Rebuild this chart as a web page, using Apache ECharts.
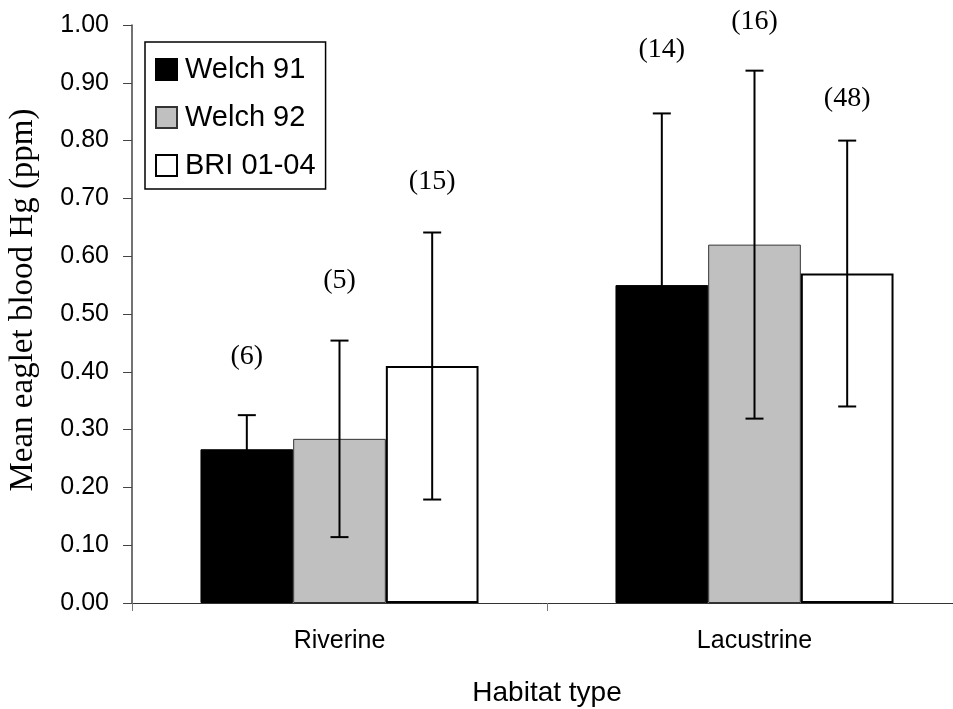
<!DOCTYPE html>
<html>
<head>
<meta charset="utf-8">
<script src="https://cdn.jsdelivr.net/npm/echarts@6/dist/echarts.min.js"></script>
<style>html,body{margin:0;padding:0;background:#fff}#c{width:953px;height:709px}</style>
</head>
<body>
<div id="c"></div>
<script>
const categories = ['Riverine', 'Lacustrine'];
const seriesNames = ['Welch 91', 'Welch 92', 'BRI 01-04'];
const welch91 = [0.266, 0.550];
const welch92 = [0.284, 0.620];
const bri0104 = [0.410, 0.570];
const welch91Err = [0.059, 0.297];
const welch92Err = [0.170, 0.301];
const bri0104Err = [0.231, 0.230];
const welch91N = ['(6)', '(14)'];
const welch92N = ['(5)', '(16)'];
const bri0104N = ['(15)', '(48)'];
const welch91LabelY = [0.426, 0.957];
const welch92LabelY = [0.558, 1.006];
const bri0104LabelY = [0.729, 0.873];
const yTicks = [0, 0.1, 0.2, 0.3, 0.4, 0.5, 0.6, 0.7, 0.8, 0.9, 1.0];

const means = [welch91, welch92, bri0104];
const errs = [welch91Err, welch92Err, bri0104Err];
const ns = [welch91N, welch92N, bri0104N];
const labelYs = [welch91LabelY, welch92LabelY, bri0104LabelY];
const fills = ['#000000', '#c0c0c0', '#ffffff'];
const borders = ['#000000', '#333333', '#000000'];
const CAT_GAP = 0.33;

const chart = echarts.init(document.getElementById('c'), null, {renderer: 'canvas'});

const barSeries = means.map((vals, i) => ({
  name: seriesNames[i],
  type: 'bar',
  data: vals,
  barGap: '0%',
  barCategoryGap: (CAT_GAP * 100) + '%',
  itemStyle: {color: fills[i], borderColor: borders[i], borderWidth: i === 2 ? 2 : 1},
  z: 2
}));

const errSeries = means.map((vals, i) => ({
  name: 'err' + i,
  type: 'custom',
  clip: false,
  z: 5,
  data: vals.map((v, k) => [k, v, errs[i][k], labelYs[i][k]]),
  renderItem: function (params, api) {
    const k = api.value(0);
    const m = api.value(1);
    const e = api.value(2);
    const band = api.size([1, 0])[0];
    const barW = band * (1 - CAT_GAP) / 3;
    const c = api.coord([k, m]);
    const x = c[0] + (i - 1) * barW;
    const top = api.coord([k, m + e])[1];
    const bot = api.coord([k, m - e])[1];
    const ly = api.coord([k, api.value(3)])[1];
    const cap = 9;
    const st = {stroke: '#000', lineWidth: 2};
    return {
      type: 'group',
      children: [
        {type: 'line', shape: {x1: x, y1: top, x2: x, y2: bot}, style: st},
        {type: 'line', shape: {x1: x - cap, y1: top, x2: x + cap, y2: top}, style: st},
        {type: 'line', shape: {x1: x - cap, y1: bot, x2: x + cap, y2: bot}, style: st},
        {type: 'text', style: {text: ns[i][k], x: x, y: ly, align: 'center', verticalAlign: 'middle',
          font: '28px "Liberation Serif", "Times New Roman", serif', fill: '#000'}}
      ]
    };
  }
}));

chart.setOption({
  animation: false,
  backgroundColor: '#fff',
  grid: {left: 132, top: 25, width: 830, height: 578, containLabel: false, outerBoundsMode: 'none'},
  legend: {
    data: seriesNames,
    orient: 'vertical',
    left: 145, top: 42,
    padding: [13, 10, 9, 10],
    itemGap: 19,
    itemWidth: 21, itemHeight: 21,
    borderColor: '#000', borderWidth: 1.5,
    icon: 'rect',
    textStyle: {fontFamily: '"Liberation Sans", Arial, sans-serif', fontSize: 29, color: '#000', lineHeight: 28, padding: [0, 0, 0, 3]}
  },
  xAxis: {
    type: 'category',
    data: categories,
    boundaryGap: true,
    name: 'Habitat type',
    nameLocation: 'middle',
    nameGap: 76,
    nameTextStyle: {fontFamily: '"Liberation Sans", Arial, sans-serif', fontSize: 28, color: '#000'},
    axisLine: {lineStyle: {color: '#333', width: 1}},
    axisTick: {show: true, length: 8, lineStyle: {color: '#777'}},
    axisLabel: {margin: 26, fontFamily: '"Liberation Sans", Arial, sans-serif', fontSize: 25, color: '#000'}
  },
  yAxis: {
    type: 'value',
    min: 0, max: 1, interval: 0.1,
    name: 'Mean eaglet blood Hg (ppm)',
    nameLocation: 'middle',
    nameGap: 92,
    nameTextStyle: {fontFamily: '"Liberation Serif", "Times New Roman", serif', fontSize: 33, color: '#000', padding: [0, 0, 0, 28]},
    axisLine: {show: true, lineStyle: {color: '#444', width: 1.5}},
    axisTick: {show: true, length: 9, lineStyle: {color: '#444'}},
    splitLine: {show: false},
    axisLabel: {margin: 23, fontFamily: '"Liberation Sans", Arial, sans-serif', fontSize: 25, color: '#000',
      formatter: v => yTicks.some(t => Math.abs(t - v) < 1e-9) ? v.toFixed(2) : ''}
  },
  series: barSeries.concat(errSeries)
});
</script>
</body>
</html>
